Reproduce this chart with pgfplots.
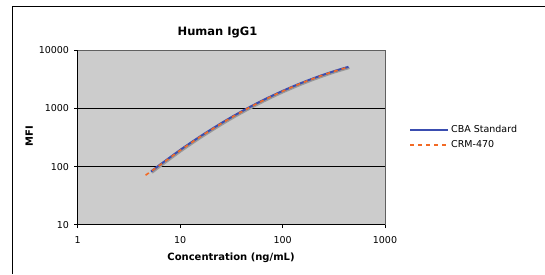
\documentclass[border=0pt]{standalone}
\usepackage{pgfplots}
\pgfplotsset{compat=1.18}
\usepackage{fontspec}
\setmainfont{DejaVu Sans}
\definecolor{plotbg}{HTML}{CCCCCC}
\definecolor{cbablue}{HTML}{3A4DB0}
\definecolor{crmorange}{HTML}{F26A25}
\begin{document}
\begin{tikzpicture}
\useasboundingbox (0pt,0pt) rectangle (545pt,274pt);
\draw[black, line width=1pt] (12.3pt,0pt) -- (12.3pt,268pt) -- (545pt,268pt);
\begin{axis}[
  at={(77.7pt,49.3pt)}, anchor=south west,
  scale only axis, width=307.3pt, height=174.4pt,
  xmode=log, ymode=log,
  xmin=1, xmax=1000, ymin=10, ymax=10000,
  log basis x=10, log basis y=10,
  xtick={1,10,100,1000}, ytick={10,100,1000,10000},
  xticklabels={1,10,100,1000}, yticklabels={10,100,1000,10000},
  minor tick num=0, minor xtick={}, minor ytick={},
  axis x line*=bottom, axis y line*=left,
  axis line style={black, line width=1pt, -},
  tick align=outside, major tick length=3.5pt,
  tick style={black, line width=0.8pt},
  ymajorgrids, grid style={black, line width=0.8pt},
  axis background/.style={fill=plotbg},
  tick label style={font=\fontsize{9.5}{11}\selectfont},
  /pgf/number format/assume math mode=true,
  yticklabel style={anchor=east, inner xsep=0pt, xshift=-5pt},
  xticklabel style={anchor=north, inner ysep=0pt, yshift=-8pt},
  title={\textbf{Human IgG1}},
  title style={font=\fontsize{11.5}{13}\selectfont, at={(axis description cs:0.455,1.07)}, anchor=center},
  xlabel={\textbf{Concentration (ng/mL)}},
  xlabel style={font=\fontsize{10}{12}\selectfont, at={(axis description cs:0.499,-0.189)}, anchor=center},
  ylabel={\textbf{MFI}},
  ylabel style={font=\fontsize{10}{12}\selectfont, at={(axis description cs:-0.158,0.51)}, anchor=center},
  legend style={at={(axis description cs:1.078,0.5)}, anchor=west, draw=none, fill=none,
    inner xsep=0pt, inner ysep=0pt, font=\fontsize{9.5}{11}\selectfont,
    row sep=2.5pt, legend cell align=left},
  legend image code/.code={\draw[#1] (0pt,0pt) -- (38pt,0pt);},
  clip=false,
]
\draw[gray!75!black, line width=0.8pt] (rel axis cs:0,1) -- (rel axis cs:1,1) -- (rel axis cs:1,0);
% shadow
\addplot[gray!80, line width=2pt, smooth, xshift=1pt, yshift=-1.2pt, forget plot] coordinates {
(5.2,82) (6,100) (7,122) (8,145) (10,193) (13,265) (17,362) (25,554) (35,784) (50,1104) (70,1491) (100,2002) (150,2714) (220,3511) (320,4395) (440,5200)
};
\addplot[cbablue, line width=2pt, smooth] coordinates {
(5.2,82) (6,100) (7,122) (8,145) (10,193) (13,265) (17,362) (25,554) (35,784) (50,1104) (70,1491) (100,2002) (150,2714) (220,3511) (320,4395) (440,5200)
};
\addlegendentry{CBA Standard}
\addplot[crmorange, line width=1.6pt, smooth, dash pattern=on 4pt off 4pt] coordinates {
(4.6,71) (6,99) (7,120) (8,143) (10,190) (13,261) (17,357) (25,546) (35,773) (50,1090) (70,1472) (100,1978) (150,2684) (220,3475) (320,4350) (440,5150)
};
\addlegendentry{CRM-470}
\end{axis}
\end{tikzpicture}
\end{document}
